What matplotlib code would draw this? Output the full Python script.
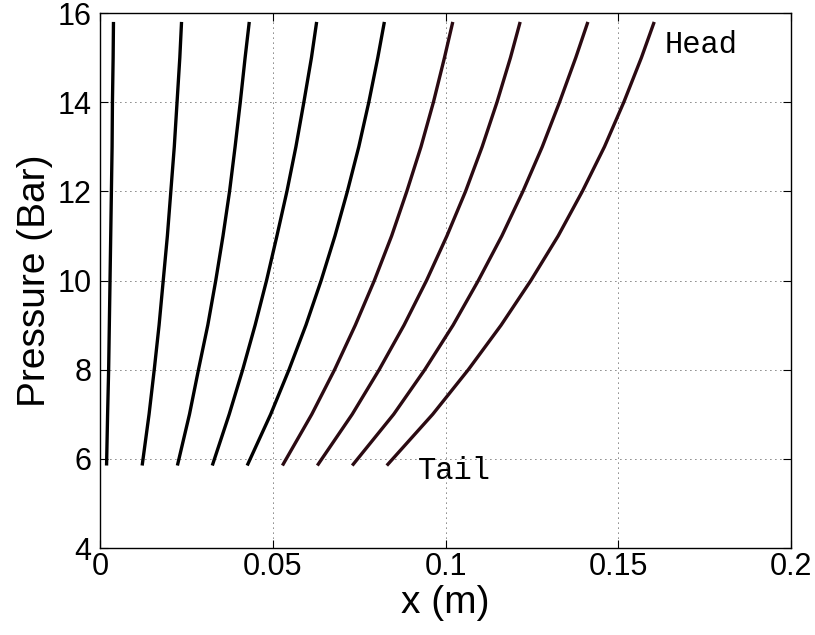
import matplotlib
matplotlib.use("Agg")
import matplotlib.pyplot as plt

# pressure levels (Bar) sampled along each profile
pressure = [5.85, 7, 8, 9, 10, 11, 12, 13, 14, 15, 15.8]

# position x (m) of each profile at the pressure levels above
x1 = [0.0019, 0.0022, 0.0025, 0.0027, 0.0029, 0.0031, 0.0033, 0.0035, 0.0036, 0.0038, 0.0039]
x2 = [0.0122, 0.0142, 0.0157, 0.0171, 0.0183, 0.0195, 0.0205, 0.0215, 0.0223, 0.0231, 0.0236]
x3 = [0.0224, 0.0259, 0.0285, 0.0312, 0.0335, 0.0356, 0.0375, 0.0391, 0.0406, 0.0420, 0.0432]
x4 = [0.0325, 0.0374, 0.0413, 0.0449, 0.0482, 0.0512, 0.0541, 0.0567, 0.0590, 0.0612, 0.0627]
x5 = [0.0426, 0.0494, 0.0547, 0.0596, 0.0640, 0.0680, 0.0716, 0.0749, 0.0778, 0.0804, 0.0823]
x6 = [0.0528, 0.0613, 0.0679, 0.0739, 0.0794, 0.0844, 0.0888, 0.0929, 0.0965, 0.0997, 0.1021]
x7 = [0.0629, 0.0730, 0.0808, 0.0880, 0.0945, 0.1004, 0.1058, 0.1106, 0.1149, 0.1188, 0.1216]
x8 = [0.0730, 0.0850, 0.0940, 0.1022, 0.1095, 0.1163, 0.1224, 0.1280, 0.1330, 0.1377, 0.1412]
x9 = [0.0830, 0.0963, 0.1066, 0.1161, 0.1247, 0.1326, 0.1396, 0.1460, 0.1516, 0.1567, 0.1604]

profiles = [x1, x2, x3, x4, x5, x6, x7, x8, x9]
colors = ['black'] * 5 + ['#2b0a12'] * 4

xticks = [0, 0.05, 0.1, 0.15, 0.2]
xticklabels = ['0', '0.05', '0.1', '0.15', '0.2']
yticks = [4, 6, 8, 10, 12, 14, 16]

plt.rcParams['font.family'] = ['Liberation Sans', 'DejaVu Sans']

fig = plt.figure(figsize=(8.15, 6.35), dpi=100)
ax = fig.add_axes([0.1227, 0.137, 0.8479, 0.8425])

for xs, c in zip(profiles, colors):
    ax.plot(xs, pressure, color=c, linewidth=2.4, solid_capstyle='butt',
            solid_joinstyle='round')

ax.set_xlim(0, 0.2)
ax.set_ylim(4, 16)
ax.set_xticks(xticks)
ax.set_xticklabels(xticklabels)
ax.set_yticks(yticks)

ax.grid(True, color='black', linestyle=(0, (1, 5)), linewidth=0.6)
ax.tick_params(direction='in', top=True, right=True, length=6, width=0.8,
               labelsize=22)
ax.tick_params(axis='x', pad=3)
ax.tick_params(axis='y', pad=6)
for s in ax.spines.values():
    s.set_linewidth(1.0)

ax.set_xlabel('x (m)', fontsize=28, labelpad=2)
ax.set_ylabel('Pressure (Bar)', fontsize=28, labelpad=3)

ax.text(0.1635, 15.28, 'Head', family='Liberation Mono', fontsize=22, va='center')
ax.text(0.092, 5.73, 'Tail', family='Liberation Mono', fontsize=22, va='center')

fig.savefig('out.png', dpi=100)
